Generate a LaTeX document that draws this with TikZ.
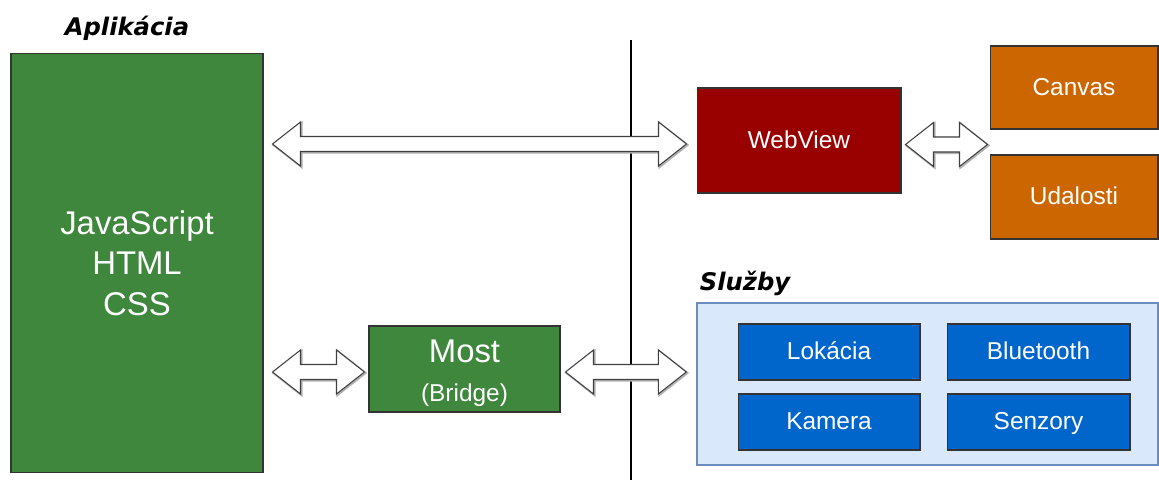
\documentclass[tikz,border=0pt]{standalone}
\usepackage{fontspec}
\setmainfont{Liberation Sans}
\newfontfamily\titlefont{DejaVu Sans}
\usepackage{tikz}
\usetikzlibrary{positioning, calc}

\definecolor{appgreen}{RGB}{62,135,60}
\definecolor{webred}{RGB}{153,0,0}
\definecolor{uiorange}{RGB}{204,102,0}
\definecolor{srvblue}{RGB}{0,102,204}
\definecolor{srvbg}{RGB}{218,232,252}
\definecolor{srvline}{RGB}{108,142,191}

\tikzset{
  box/.style={draw=black!80, line width=0.6pt, text=white, inner sep=0pt, align=center},
  bigtext/.style={font=\fontsize{18.7}{23}\selectfont},
  midtext/.style={font=\fontsize{13.9}{17}\selectfont, text height=11pt, text depth=2pt},
  title/.style={font=\titlefont\bfseries\itshape\fontsize{13.8}{16}\selectfont},
  flexarr/.style={draw=black!75, fill=white, line width=0.6pt, line join=miter},
  flexshadow/.style={draw=black!30, line width=1.2pt}
}

% double hollow arrow between two points
\newcommand{\flexarrow}[2]{%
  \draw[flexshadow] let \p1=#1, \p2=#2 in
    ($(\p1)+(1,1)$) -- ++(28,-22) -- ++(0,14.5) -- ($(\p2)+(-27,-6.5)$) -- ++(0,-14.5)
    -- ($(\p2)+(1,1)$) -- ++(-28,22) -- ++(0,-14.5) -- ($(\p1)+(29,8.5)$) -- ++(0,14.5) -- cycle;
  \draw[flexarr] let \p1=#1, \p2=#2 in
    (\p1) -- ++(28,-22) -- ++(0,14.5) -- ($(\p2)+(-28,-7.5)$) -- ++(0,-14.5)
    -- (\p2) -- ++(-28,22) -- ++(0,-14.5) -- ($(\p1)+(28,7.5)$) -- ++(0,14.5) -- cycle;
}

\begin{document}
\begin{tikzpicture}[x=0.02cm, y=-0.02cm]
  \useasboundingbox (0,0) rectangle (1159,480);

  % aplikacia
  \node[title] (apptitle) at (127,28) {Aplikácia};
  \node[box, bigtext, fill=appgreen, minimum width=5.04cm, minimum height=8.4cm] (app) at (137,263)
    {JavaScript\\HTML\\CSS};

  % deliaca ciara
  \coordinate (ltop) at (631,40);
  \coordinate (lbot) at (631,480);
  \draw[line width=0.8pt] (ltop) -- (lbot);

  % most
  \node[box, fill=appgreen, minimum width=3.82cm, minimum height=1.72cm] (most) at (464.5,369)
    {{\fontsize{18.7}{22}\selectfont\rule{0pt}{18pt}Most}\\[10pt]{\fontsize{13.9}{17}\selectfont (Bridge)}};

  % webview
  \node[box, midtext, fill=webred, minimum width=4.08cm, minimum height=2.1cm] (web) at (799,140.5) {WebView};
  \node[box, midtext, fill=uiorange, minimum width=3.36cm, minimum height=1.66cm] (canvas) at (1074,87.5) {Canvas};
  \node[box, midtext, fill=uiorange, minimum width=3.36cm, minimum height=1.68cm] (udal) at (1074,197) {Udalosti};

  % sluzby
  \node[title] (srvtitle) at (745,283) {Služby};
  \node[draw=srvline, fill=srvbg, line width=0.8pt, minimum width=9.22cm, minimum height=3.24cm] (srv) at (927.5,384) {};
  \node[box, midtext, fill=srvblue, minimum width=3.64cm, minimum height=1.12cm] (lok) at (829,352) {Lokácia};
  \node[box, midtext, fill=srvblue, minimum width=3.66cm, minimum height=1.12cm] (blue) at (1038.5,352) {Bluetooth};
  \node[box, midtext, fill=srvblue, minimum width=3.64cm, minimum height=1.12cm] (kam) at (829,422) {Kamera};
  \node[box, midtext, fill=srvblue, minimum width=3.66cm, minimum height=1.12cm] (sen) at (1038.5,422) {Senzory};

  % sipky
  \flexarrow{($(app.east |- web.west)+(9,3.5)$)}{($(web.west)+(-10,3.5)$)}
  \flexarrow{($(web.east)+(4,4)$)}{($(canvas.west |- web.east)+(-2,4)$)}
  \flexarrow{($(app.east |- most.west)+(9,3)$)}{($(most.west)+(-4,3)$)}
  \flexarrow{($(most.east)+(5,3)$)}{($(srv.west |- most.east)+(-10,3)$)}
\end{tikzpicture}
\end{document}
